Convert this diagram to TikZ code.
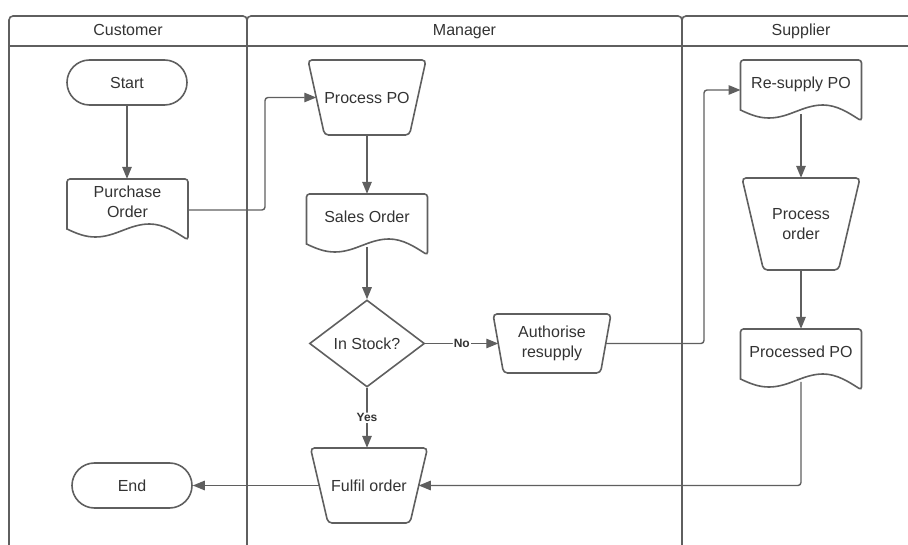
\documentclass[tikz,border=0pt]{standalone}
\usepackage{fontspec}
\setmainfont{Liberation Sans}
\usetikzlibrary{arrows.meta,calc,shapes.geometric}
\definecolor{lc}{RGB}{95,95,95}
\definecolor{tc}{RGB}{51,51,51}
\newcommand\docshape[1]{\draw[shp,shift={(#1.center)}] (-60.5,27) [rounded corners=3pt] -- (-60.5,-23) -- (60.5,-23) -- (60.5,38) [sharp corners] .. controls (48,30) and (36,22) .. (22,22) .. controls (2,22) and (-12,35) .. (-32,35) .. controls (-42,35) and (-50,32) .. (-60.5,27) -- cycle;}
% #1 node, #2 half width, #3 half height, #4 bottom inset
\newcommand\trapshape[4]{\draw[shp,rounded corners=4pt,shift={(#1.center)}] (-#2,-#3) -- (#2,-#3) -- ({#2-#4},#3) -- ({-#2+#4},#3) -- cycle;}
\begin{document}
\begin{tikzpicture}[x=1pt,y=-1pt, font=\fontsize{16}{20}\selectfont, text=tc,
 shp/.style={draw=lc, line width=1.6pt},
 sl/.style={text height=14pt, text depth=2.5pt},
 term/.style={shp, rectangle, rounded corners=22.5pt, minimum width=120pt, minimum height=45pt, inner sep=0pt, sl},
 doc/.style={rectangle, minimum width=121pt, minimum height=46pt, inner sep=0pt, align=center},
 trap/.style={rectangle, inner sep=0pt, align=center},
 dec/.style={shp, diamond, aspect=1.32, minimum width=115pt, minimum height=87pt, inner sep=0pt, sl},
 arr/.style={draw=lc, line width=1.4pt, rounded corners=3pt, -{Triangle[length=12pt,width=9.5pt]}},
 lane/.style={draw=lc, line width=1.6pt},
 hdr/.style={anchor=base},
 lbl/.style={font=\fontsize{12}{14}\selectfont\bfseries, fill=white, inner sep=1pt}]
\useasboundingbox (0,0) rectangle (908,545);
\clip (0,0) rectangle (908,545);
% lanes
\draw[lane, rounded corners=4pt] (9,560) -- (9,16) -- (247,16) -- (247,560);
\draw[lane, rounded corners=4pt] (247,560) -- (247,16) -- (682,16) -- (682,560);
\draw[lane, rounded corners=4pt] (682,560) -- (682,16) -- (930,16);
\draw[lane] (9,46) -- (930,46);
\node[hdr] (hcust) at (128,36) {Customer};
\node[hdr] (hman) at (464.5,36) {Manager};
\node[hdr] (hsup) at (801,36) {Supplier};
% nodes
\node[term] (start) at (127,82.5) {Start};
\node[doc] (po) at (127.5,202) {Purchase\\Order};
\node[trap, sl, minimum width=118pt, minimum height=75pt] (procpo) at (367,97.5) {Process PO};
\node[doc, sl] (so) at (367,217) {Sales Order};
\node[dec] (dia) at (367,343.5) {In Stock?};
\node[trap, minimum width=118pt, minimum height=59pt] (auth) at (552,343.5) {Authorise\\resupply};
\node[doc, sl] (rpo) at (801,83) {Re-supply PO};
\node[trap, minimum width=118pt, minimum height=92pt] (procord) at (801,224) {Process\\order};
\node[doc, sl] (ppo) at (801,352) {Processed PO};
\node[trap, sl, minimum width=117pt, minimum height=75pt] (fulfil) at (369,485.5) {Fulfil order};
\node[term] (end) at (132,485.5) {End};
\docshape{po}
\docshape{so}
\docshape{rpo}
\docshape{ppo}
\trapshape{procpo}{59}{37.5}{16.5}
\trapshape{auth}{59}{29.5}{10.5}
\trapshape{procord}{59}{46}{21.5}
\trapshape{fulfil}{58.5}{37.5}{17.5}
% connectors
\draw[arr] (start.south) -- (start.south |- po.north);
\draw[arr] ($(po.center)+(60.5,8)$) -| ($(procpo.center)+(-102,0)$) -- ($(procpo.center)+(-50.75,0)$);
\draw[arr] (procpo.south) -- (procpo.south |- so.north);
\draw[arr] ($(so.center)+(0,30)$) -- (dia.north);
\draw[arr] (dia.east) -- node[lbl]{No} ($(auth.center)+(-53.75,0)$);
\draw[arr] ($(auth.center)+(53.75,0)$) -| ($(rpo.center)+(-97,7)$) -- ($(rpo.center)+(-60.5,7)$);
\draw[arr] ($(rpo.center)+(0,31)$) -- (procord.north);
\draw[arr] (procord.south) -- (procord.south |- ppo.north);
\draw[arr] ($(ppo.center)+(0,30)$) |- ($(fulfil.center)+(49.75,0)$);
\draw[arr] (dia.south) -- node[lbl]{Yes} (dia.south |- fulfil.north);
\draw[arr] ($(fulfil.center)+(-49.75,0)$) -- (end.east);
\end{tikzpicture}
\end{document}
